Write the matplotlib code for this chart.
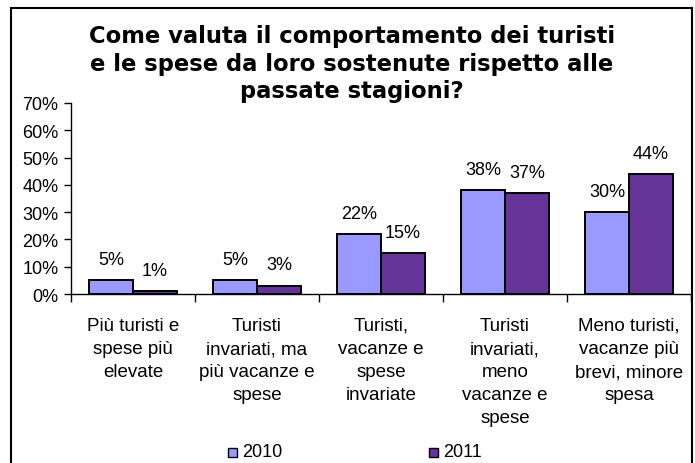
import matplotlib
matplotlib.use("Agg")
import matplotlib.pyplot as plt
from matplotlib.lines import Line2D
from matplotlib.patches import Rectangle
import numpy as np

categories = [
    "Più turisti e\nspese più\nelevate",
    "Turisti\ninvariati, ma\npiù vacanze e\nspese",
    "Turisti,\nvacanze e\nspese\ninvariate",
    "Turisti\ninvariati,\nmeno\nvacanze e\nspese",
    "Meno turisti,\nvacanze più\nbrevi, minore\nspesa",
]
series_names = ["2010", "2011"]
values_2010 = [5, 5, 22, 38, 30]
values_2011 = [1, 3, 15, 37, 44]
y_ticks = [0, 10, 20, 30, 40, 50, 60, 70]
title = "Come valuta il comportamento dei turisti\ne le spese da loro sostenute rispetto alle\npassate stagioni?"

colors = ["#9999FF", "#663399"]
font = "Liberation Sans"

W, H = 695, 464
fig = plt.figure(figsize=(W / 100, H / 100), dpi=100)
ax = fig.add_axes([71 / W, 1 - 295 / H, (691 - 71) / W, (295 - 104) / H])

x = np.arange(len(categories))
bw = 0.355
for i, (vals, name) in enumerate(zip([values_2010, values_2011], series_names)):
    pos = x + (i - 0.5) * bw
    ax.bar(pos, vals, width=bw, color=colors[i], edgecolor="black",
           linewidth=1.4, label=name, zorder=3)
    for p, v in zip(pos, vals):
        ax.annotate(f"{v}%", (p, v), xytext=(0, 15), textcoords="offset points",
                    ha="center", va="center", fontsize=13, family=font)

ax.set_xlim(-0.5, len(categories) - 0.5)
ax.set_ylim(0, 70)
ax.set_yticks(y_ticks)
ax.set_yticklabels([f"{t}%" for t in y_ticks], fontsize=13, family=font)
ax.tick_params(axis="y", direction="out", length=5, width=1, pad=4)

ax.set_xticks(x)
ax.set_xticklabels(categories, fontsize=13.5, family=font, linespacing=1.47)
ax.tick_params(axis="x", which="major", length=0, pad=16.5)
ax.set_xticks(np.arange(len(categories) + 1) - 0.5, minor=True)
ax.tick_params(axis="x", which="minor", direction="out", length=6, width=1)

for s in ["top", "right"]:
    ax.spines[s].set_visible(False)
ax.spines["left"].set_linewidth(1)
ax.spines["bottom"].set_linewidth(1)

fig.text(352 / W, 1 - 64 / H, title, ha="center", va="center", fontsize=16.3,
         fontweight="bold", family="DejaVu Sans", linespacing=1.25)

# legend
leg_items = [(228, series_names[0], colors[0]), (429, series_names[1], colors[1])]
for lx, name, c in leg_items:
    fig.patches.append(Rectangle((lx / W, 1 - 458 / H), 9 / W, 9 / H,
                                 transform=fig.transFigure, facecolor=c,
                                 edgecolor="black", linewidth=1))
    fig.text((lx + 14) / W, 1 - 453 / H, name, ha="left", va="center",
             fontsize=13, family=font)

# outer frame
fig.add_artist(Line2D([11 / W, 11 / W], [0, 1 - 9 / H], color="black", lw=1.5,
                      transform=fig.transFigure))
fig.add_artist(Line2D([11 / W, 692 / W], [1 - 9 / H, 1 - 9 / H], color="black", lw=1.5,
                      transform=fig.transFigure))
fig.add_artist(Line2D([692 / W, 692 / W], [0, 1 - 9 / H], color="black", lw=1.5,
                      transform=fig.transFigure))

fig.savefig("out.png", dpi=100)
